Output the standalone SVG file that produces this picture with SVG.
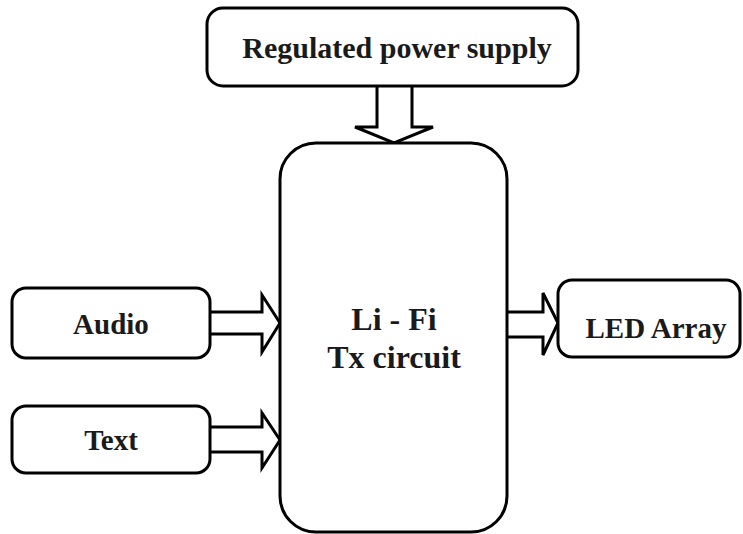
<svg xmlns="http://www.w3.org/2000/svg" width="743" height="534" viewBox="0 0 743 534">
<style>
.box{fill:#fff;stroke:#000;stroke-width:3}
.arr{fill:#fff;stroke:#000;stroke-width:3;stroke-linejoin:miter}
.lbl{font-family:"Liberation Serif","Times New Roman",serif;font-weight:bold;font-size:29px;fill:#1a1a1a;text-anchor:middle}
.big{font-size:32px}
</style>
<rect width="743" height="534" fill="#fff"/>
<g id="connectors">
<path class="arr" d="M377,86 V127 H355 L394,143 L433,127 H412 V86"/>
<path class="arr" d="M210,312 H262 V295 L280,323 L262,352 V334 H210"/>
<path class="arr" d="M210,427 H262 V413 L280,440 L262,468 V452 H210"/>
<path class="arr" d="M507,312 H543 V293 L558,323 L543,355 V337 H507"/>
</g>
<g id="power">
<rect class="box" x="207" y="8" width="371" height="78" rx="16"/>
<text class="lbl" x="397" y="58" style="font-size:30px">Regulated power supply</text>
</g>
<g id="txcircuit">
<rect class="box" x="280" y="143" width="227" height="389" rx="36"/>
<text class="lbl big" x="394" y="330">Li - Fi</text>
<text class="lbl big" x="394" y="368">Tx circuit</text>
</g>
<g id="audio">
<rect class="box" x="12" y="288" width="198" height="70" rx="14"/>
<text class="lbl" x="111" y="334">Audio</text>
</g>
<g id="text">
<rect class="box" x="12" y="406" width="198" height="67" rx="14"/>
<text class="lbl" x="111" y="450">Text</text>
</g>
<g id="led">
<rect class="box" x="558" y="280" width="182" height="77" rx="14"/>
<text class="lbl" x="656" y="338">LED Array</text>
</g>
</svg>
